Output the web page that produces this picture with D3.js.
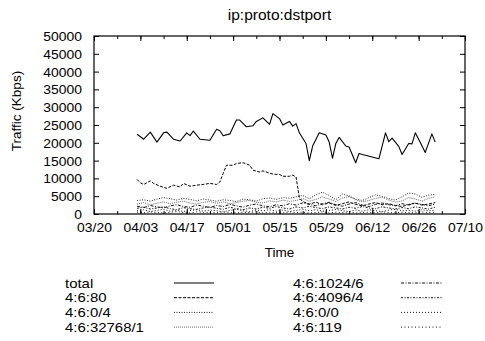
<!DOCTYPE html>
<html>
<head>
<meta charset="utf-8">
<script src="https://cdn.jsdelivr.net/npm/d3@7/dist/d3.min.js"></script>
<style>
  html, body { margin: 0; padding: 0; background: #fff; }
  svg { display: block; }
  text { font-family: "Liberation Sans", Arial, Helvetica, sans-serif; fill: #000; }
</style>
</head>
<body>
<svg id="chart" width="485" height="341"></svg>
<script>
// ---- data ----------------------------------------------------------------
const year = "2005";
const title = "ip:proto:dstport";
const yLabel = "Traffic (Kbps)";
const xLabel = "Time";

const xTickLabels = ["03/20", "04/03", "04/17", "05/01", "05/15", "05/29", "06/12", "06/26", "07/10"];
const yTickValues = [0, 5000, 10000, 15000, 20000, 25000, 30000, 35000, 40000, 45000, 50000];

const seriesNames = ["total", "4:6:80", "4:6:0/4", "4:6:32768/1", "4:6:1024/6", "4:6:4096/4", "4:6:0/0", "4:6:119"];

const totalDates = ["04/02","04/04","04/06","04/08","04/10","04/11","04/13","04/15","04/17","04/18",
  "04/19","04/21","04/24","04/26","04/27","04/28","04/30","05/02","05/03","05/05",
  "05/07","05/08","05/10","05/12","05/13","05/15","05/16","05/18","05/19","05/20",
  "05/21","05/23","05/24","05/25","05/27","05/29","05/30","05/31","06/01","06/02",
  "06/04","06/05","06/07","06/08","06/09","06/14","06/16","06/17","06/18","06/20",
  "06/21","06/23","06/24","06/25","06/26","06/27","06/28","06/30","07/01"];
const totalValues = [22400,21000,23000,20200,22800,23000,21000,20500,22800,22000,
  23300,21000,20700,23800,23400,22000,22500,26400,26400,24500,
  24800,26000,27000,25200,28200,26800,25000,26000,24700,25400,
  22800,19800,15000,19100,22800,22200,20200,15700,19800,21500,
  19100,18800,14400,17000,16700,15500,22800,20300,21300,19000,
  16700,19800,19700,22800,21000,19200,17300,22500,20200];

const httpDates = ["04/02","04/03","04/04","04/06","04/07","04/09","04/11","04/13","04/15","04/16",
  "04/18","04/20","04/22","04/24","04/26","04/27","04/28","04/29","05/01","05/02",
  "05/04","05/06","05/07","05/09","05/10","05/12","05/13","05/15","05/16","05/18",
  "05/19","05/20","05/21","05/22","05/24","05/26","05/28","05/30","06/01","06/03",
  "06/05","06/07","06/09","06/11","06/13","06/15","06/17","06/19","06/21","06/23",
  "06/25","06/27","06/29","07/01"];
const httpValues = [9700,8750,8300,9300,8600,7800,7200,8100,7600,8600,
  7800,8100,8300,8600,8300,9000,11400,13700,13700,14200,
  14400,13700,12300,11800,12100,11500,11200,11100,10600,10600,
  10900,10400,4500,3500,2800,3300,2600,3100,2400,2900,
  3400,2700,2300,2800,3200,2600,2900,2400,2100,2700,
  3100,2500,2800,3200];

// smaller protocols, sampled every other day
const smallDates = ["04/02","04/04","04/06","04/08","04/10","04/12","04/14","04/16","04/18","04/20",
  "04/22","04/24","04/26","04/28","04/30","05/02","05/04","05/06","05/08","05/10",
  "05/12","05/14","05/16","05/18","05/20","05/22","05/24","05/26","05/28","05/30",
  "06/01","06/03","06/05","06/07","06/09","06/11","06/13","06/15","06/17","06/19",
  "06/21","06/23","06/25","06/27","06/29","07/01"];
const icmpValues = [3800,4000,3600,4200,4600,4300,3900,4400,4100,3700,
  4200,3900,3600,4000,3800,3500,4200,4000,3600,4300,
  4500,4100,4600,4400,4800,5200,4300,5400,6100,5200,
  4000,5600,5100,4200,3800,4600,5400,5000,4300,3900,
  4800,5900,5600,4700,5300,5500];
const port32768Values = [2800,3200,2600,3000,3400,2900,3300,3600,3100,2800,
  3300,3500,3000,3400,2900,3200,3600,3800,3300,3100,
  3700,3400,3900,3500,3800,4300,3600,4100,4800,4200,
  3500,4500,4900,4000,3400,3800,4400,4700,3900,3300,
  3700,4600,4200,3600,4400,4800];
const port1024Values = [2200,1800,2400,2000,1700,2300,2600,2100,1900,2500,
  2200,1800,2400,2100,2700,2300,1900,2500,2800,2300,
  2000,2600,2300,2900,2500,3100,2700,2300,2900,3300,
  2600,2200,2800,3200,2500,2100,2700,3100,2600,2300,
  2900,2500,3000,2700,2300,2800];
const port4096Values = [1600,1900,1400,1700,2000,1500,1200,1800,1500,1300,
  1700,2000,1600,1300,1900,1500,1200,1700,1400,1900,
  1600,2100,1700,1400,2000,1700,2200,1800,1500,2000,
  1700,1400,1900,1600,2100,1700,1500,2000,1700,1400,
  1800,1500,2000,1700,1400,1900];
const port0Values = [900,1200,700,1000,1300,800,1100,700,1000,1200,
  800,1100,900,600,1000,1300,900,700,1100,900,
  1200,800,1100,700,1000,1300,900,1200,800,1000,
  1300,900,700,1100,800,1200,900,700,1100,1300,
  900,1000,800,1200,900,1100];
const port119Values = [500,300,600,400,300,500,700,400,300,600,
  400,500,300,600,400,300,500,400,600,300,
  500,400,300,600,400,500,300,400,600,300,
  500,400,600,300,400,500,300,600,400,300,
  500,400,300,600,400,500];

// ---- layout ---------------------------------------------------------------
const plot = { left: 94, right: 465, top: 36, bottom: 214 };
const tickFont = 13, tickStretch = 1.07;
const legendFont = 13, legendStretch = 1.15;
const titleFont = 15.5;
const axisLabelFont = 13.5;

const parse = d3.utcParse("%Y/%m/%d");
const toDate = s => parse(year + "/" + s);

const x = d3.scaleUtc()
  .domain([toDate(xTickLabels[0]), toDate(xTickLabels[xTickLabels.length - 1])])
  .range([plot.left, plot.right]);
const y = d3.scaleLinear()
  .domain([yTickValues[0], yTickValues[yTickValues.length - 1]])
  .range([plot.bottom, plot.top]);

const svg = d3.select("#chart");

const series = [
  { name: seriesNames[0], dates: totalDates, values: totalValues, dash: null, width: 1.1, color: "#000" },
  { name: seriesNames[1], dates: httpDates, values: httpValues, dash: "3,1.5", width: 1, color: "#000" },
  { name: seriesNames[2], dates: smallDates, values: icmpValues, dash: "1,1.5", width: 1, color: "#222" },
  { name: seriesNames[3], dates: smallDates, values: port32768Values, dash: "1,1", width: 0.9, color: "#555" },
  { name: seriesNames[4], dates: smallDates, values: port1024Values, dash: "3,1.5,1,1.5", width: 1, color: "#111" },
  { name: seriesNames[5], dates: smallDates, values: port4096Values, dash: "2,1.5,1,1.5", width: 1, color: "#111" },
  { name: seriesNames[6], dates: smallDates, values: port0Values, dash: "1,2", width: 1, color: "#111" },
  { name: seriesNames[7], dates: smallDates, values: port119Values, dash: "1,2.5", width: 1, color: "#111" }
];

// ---- lines ----------------------------------------------------------------
const line = d3.line().x(d => x(d.t)).y(d => y(d.v));
const lineG = svg.append("g");
series.slice().reverse().forEach(s => {
  const pts = s.dates.map((d, i) => ({ t: toDate(d), v: s.values[i] }));
  lineG.append("path")
    .attr("d", line(pts))
    .attr("fill", "none")
    .attr("stroke", s.color)
    .attr("stroke-width", s.width)
    .attr("stroke-dasharray", s.dash)
    .attr("stroke-linejoin", "round");
});

// ---- axes -----------------------------------------------------------------
const xTicks = xTickLabels.map(toDate);
const weekTicks = d3.utcDay.range(xTicks[0], d3.utcDay.offset(xTicks[xTicks.length - 1], 1), 7);

function styleAxis(g) {
  g.select(".domain").remove();
  g.selectAll(".tick line").attr("stroke", "#000").attr("stroke-width", 1);
  g.selectAll("text").attr("font-size", tickFont);
}

// widen tick labels horizontally about their anchor point
function stretchLabels(g, sx) {
  g.selectAll(".tick text").each(function () {
    const t = d3.select(this);
    const tx = +t.attr("x") || 0;
    const ty = +t.attr("y") || 0;
    t.attr("x", 0).attr("y", 0)
      .attr("transform", `translate(${tx},${ty}) scale(${sx},1)`);
  });
}

// minor weekly ticks, bottom and top
svg.append("g").attr("transform", `translate(0,${plot.bottom})`)
  .call(d3.axisTop(x).tickValues(weekTicks).tickSize(3).tickFormat(""))
  .call(styleAxis);
svg.append("g").attr("transform", `translate(0,${plot.top})`)
  .call(d3.axisBottom(x).tickValues(weekTicks).tickSize(3).tickFormat(""))
  .call(styleAxis);

// major ticks with labels
svg.append("g").attr("transform", `translate(0,${plot.bottom})`)
  .call(d3.axisTop(x).tickValues(xTicks).tickSize(5).tickFormat(""))
  .call(styleAxis);
svg.append("g").attr("transform", `translate(0,${plot.top})`)
  .call(d3.axisBottom(x).tickValues(xTicks).tickSize(5).tickFormat(""))
  .call(styleAxis);
const xAxisLabels = svg.append("g").attr("transform", `translate(0,${plot.bottom})`)
  .call(d3.axisBottom(x).tickValues(xTicks).tickSize(0).tickPadding(8).tickFormat(d3.utcFormat("%m/%d")))
  .call(styleAxis);
xAxisLabels.selectAll(".tick text").attr("dy", "0.78em");
stretchLabels(xAxisLabels, tickStretch);
xAxisLabels.selectAll(".tick text").attr("dy", "0.78em");

svg.append("g").attr("transform", `translate(${plot.left},0)`)
  .call(d3.axisRight(y).tickValues(yTickValues).tickSize(5).tickFormat(""))
  .call(styleAxis);
svg.append("g").attr("transform", `translate(${plot.right},0)`)
  .call(d3.axisLeft(y).tickValues(yTickValues).tickSize(5).tickFormat(""))
  .call(styleAxis);
const yAxisLabels = svg.append("g").attr("transform", `translate(${plot.left},0)`)
  .call(d3.axisLeft(y).tickValues(yTickValues).tickSize(0).tickPadding(12).tickFormat(d3.format("d")))
  .call(styleAxis);
stretchLabels(yAxisLabels, tickStretch);
yAxisLabels.selectAll(".tick text").attr("dy", "0.34em");

// frame
svg.append("rect")
  .attr("x", plot.left).attr("y", plot.top)
  .attr("width", plot.right - plot.left).attr("height", plot.bottom - plot.top)
  .attr("fill", "none").attr("stroke", "#000").attr("stroke-width", 1.2);

// titles
svg.append("text").attr("x", (plot.left + plot.right) / 2).attr("y", 20)
  .attr("text-anchor", "middle").attr("font-size", titleFont).text(title);
svg.append("text").attr("x", (plot.left + plot.right) / 2).attr("y", 257)
  .attr("text-anchor", "middle").attr("font-size", axisLabelFont).text(xLabel);
svg.append("text")
  .attr("transform", `translate(21,${(plot.top + plot.bottom) / 2 - 14}) rotate(-90)`)
  .attr("text-anchor", "middle").attr("font-size", axisLabelFont).text(yLabel);

// ---- legend -----------------------------------------------------------------
const legend = svg.append("g");
const cols = [{ tx: 65, lx0: 174, lx1: 214 }, { tx: 293, lx0: 401, lx1: 442 }];
series.forEach((s, i) => {
  const c = cols[Math.floor(i / 4)];
  const row = i % 4;
  const ly = 283 + row * 14.7;
  legend.append("text")
    .attr("transform", `translate(${c.tx},${ly + 4.6}) scale(${legendStretch},1)`)
    .attr("font-size", legendFont).text(s.name);
  legend.append("line")
    .attr("x1", c.lx0).attr("x2", c.lx1).attr("y1", ly).attr("y2", ly)
    .attr("stroke", s.color).attr("stroke-width", s.width)
    .attr("stroke-dasharray", s.dash);
});
</script>
</body>
</html>
